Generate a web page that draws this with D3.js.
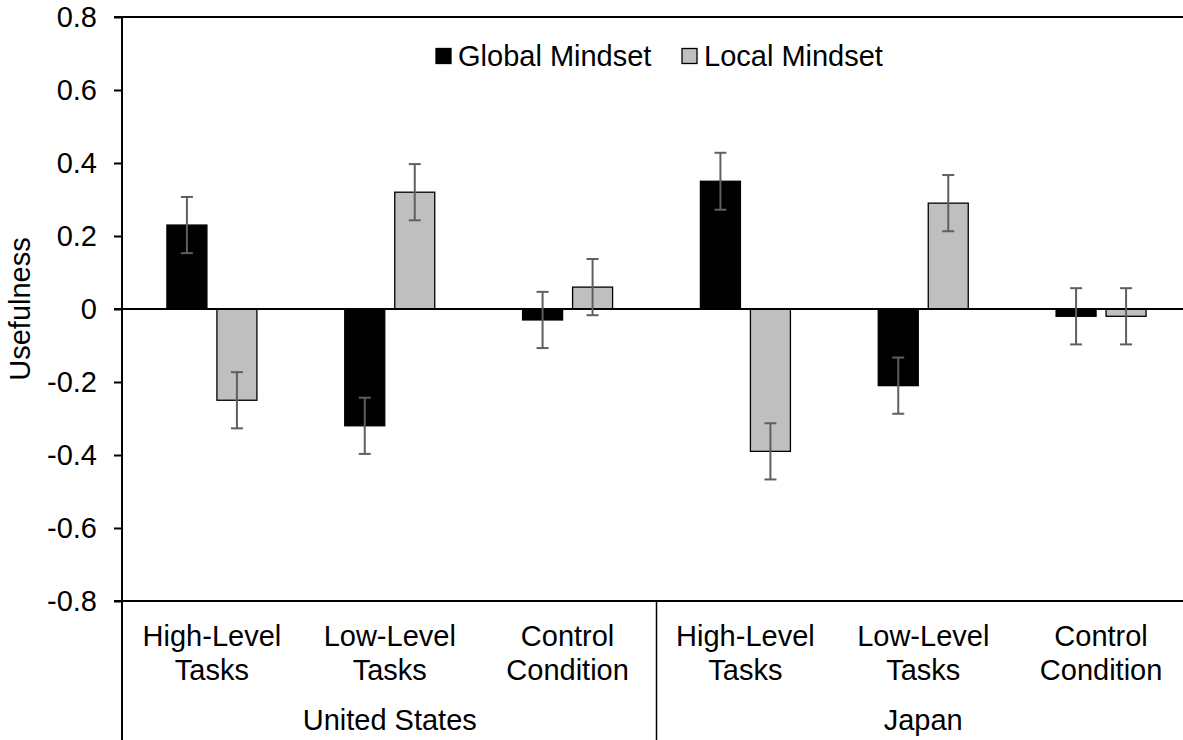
<!DOCTYPE html>
<html>
<head>
<meta charset="utf-8">
<script src="https://cdn.jsdelivr.net/npm/d3@7"></script>
<style>
  html, body { margin: 0; padding: 0; background: #fff; }
  svg { display: block; }
  text { font-family: "Liberation Sans", Arial, sans-serif; fill: #000; }
</style>
</head>
<body>
<svg id="chart" width="1183" height="740"></svg>
<script>
// ---- Data ----
const countries = ["United States", "Japan"];
const conditions = [["High-Level", "Tasks"], ["Low-Level", "Tasks"], ["Control", "Condition"]];
const seriesNames = ["Global Mindset", "Local Mindset"];
const globalValues = [0.23, -0.32, -0.03, 0.35, -0.21, -0.02];
const localValues  = [-0.25, 0.32, 0.06, -0.39, 0.29, -0.02];
const globalErrors = [0.077, 0.077, 0.077, 0.078, 0.077, 0.077];
const localErrors  = [0.077, 0.077, 0.077, 0.077, 0.077, 0.077];
const yTicks = [-0.8, -0.6, -0.4, -0.2, 0, 0.2, 0.4, 0.6, 0.8];
const yTickLabels = ["-0.8", "-0.6", "-0.4", "-0.2", "0", "0.2", "0.4", "0.6", "0.8"];
const yTitle = "Usefulness";

// ---- Layout ----
const W = 1183, H = 740;
const plotLeft = 122, plotRight = 1190, plotTop = 17, plotBottom = 601;
const FS = 29;
const colors = ["#000000", "#bfbfbf"];
const errColor = "#5f5f5f";

const svg = d3.select("#chart");

const groups = [];
countries.forEach((c, ci) => conditions.forEach((cond, k) => groups.push({
  key: ci + "-" + k, country: c, cond: cond, idx: ci * conditions.length + k
})));

const x0 = d3.scaleBand().domain(groups.map(g => g.key)).range([plotLeft + 1, plotRight]).padding(0);
const y = d3.scaleLinear().domain([-0.8, 0.8]).range([plotBottom, plotTop]);

const bw = x0.bandwidth();
const x1 = d3.scaleBand().domain(seriesNames)
  .range([bw / 2 - 45, bw / 2 + 45]).paddingInner(0.2).paddingOuter(0);

// Bars
const barData = [];
groups.forEach(g => {
  barData.push({g, s: seriesNames[0], v: globalValues[g.idx], e: globalErrors[g.idx], c: colors[0]});
  barData.push({g, s: seriesNames[1], v: localValues[g.idx], e: localErrors[g.idx], c: colors[1]});
});

svg.append("g").selectAll("rect").data(barData).join("rect")
  .attr("x", d => x0(d.g.key) + x1(d.s))
  .attr("y", d => y(Math.max(0, d.v)))
  .attr("width", x1.bandwidth())
  .attr("height", d => Math.abs(y(d.v) - y(0)))
  .attr("fill", d => d.c)
  .attr("stroke", "#000")
  .attr("stroke-width", 1.3);

// Zero line
svg.append("line")
  .attr("x1", plotLeft - 8).attr("x2", W)
  .attr("y1", y(0)).attr("y2", y(0))
  .attr("stroke", "#000").attr("stroke-width", 2);

// Error bars
const eb = svg.append("g").attr("stroke", errColor).attr("stroke-width", 2);
barData.forEach(d => {
  const cx = x0(d.g.key) + x1(d.s) + x1.bandwidth() / 2;
  const yt = y(d.v + d.e), yb = y(d.v - d.e);
  eb.append("line").attr("x1", cx).attr("x2", cx).attr("y1", yt).attr("y2", yb);
  eb.append("line").attr("x1", cx - 6).attr("x2", cx + 6).attr("y1", yt).attr("y2", yt);
  eb.append("line").attr("x1", cx - 6).attr("x2", cx + 6).attr("y1", yb).attr("y2", yb);
});

// Y axis
const yAxis = d3.axisLeft(y).tickValues(yTicks)
  .tickFormat((d, i) => yTickLabels[i]).tickSize(8).tickPadding(17);
const ya = svg.append("g").attr("transform", `translate(${plotLeft},0)`).call(yAxis);
ya.select(".domain").remove();
ya.selectAll(".tick line").attr("stroke", "#000").attr("stroke-width", 2);
ya.selectAll(".tick text").attr("font-size", FS).attr("font-family", '"Liberation Sans", Arial, sans-serif')
  .attr("fill", "#000");

// Left axis line (full height to the bottom of the category area)
svg.append("line").attr("x1", plotLeft).attr("x2", plotLeft)
  .attr("y1", plotTop).attr("y2", H)
  .attr("stroke", "#000").attr("stroke-width", 2);

// Top line
svg.append("line").attr("x1", plotLeft - 8).attr("x2", W)
  .attr("y1", plotTop).attr("y2", plotTop)
  .attr("stroke", "#000").attr("stroke-width", 2);

// Bottom category axis line
svg.append("line").attr("x1", plotLeft - 8).attr("x2", W)
  .attr("y1", plotBottom).attr("y2", plotBottom)
  .attr("stroke", "#000").attr("stroke-width", 2);

// Country separators
countries.forEach((c, ci) => {
  if (ci === 0) return;
  const xs = x0(ci + "-0");
  svg.append("line").attr("x1", xs).attr("x2", xs)
    .attr("y1", plotBottom).attr("y2", H)
    .attr("stroke", "#000").attr("stroke-width", 1.5);
});

// Category labels
const catG = svg.append("g").attr("font-size", FS).attr("text-anchor", "middle");
groups.forEach(g => {
  const cx = x0(g.key) + bw / 2;
  const t = catG.append("text").attr("x", cx).attr("y", 646);
  t.append("tspan").attr("x", cx).attr("dy", 0).text(g.cond[0]);
  t.append("tspan").attr("x", cx).attr("dy", 34).text(g.cond[1]);
});
countries.forEach((c, ci) => {
  const xa = x0(ci + "-0");
  const xb = x0(ci + "-" + (conditions.length - 1)) + bw;
  catG.append("text").attr("x", (xa + xb) / 2).attr("y", 730).text(c);
});

// Y title
svg.append("text")
  .attr("transform", `translate(${30},${y(0)}) rotate(-90)`)
  .attr("text-anchor", "middle")
  .attr("font-size", FS)
  .text(yTitle);

// Legend
const legend = svg.append("g").attr("font-size", FS);
const legendX = [436, 682];
seriesNames.forEach((s, i) => {
  legend.append("rect").attr("x", legendX[i]).attr("y", 48.5)
    .attr("width", 15).attr("height", 15)
    .attr("fill", colors[i]).attr("stroke", "#000").attr("stroke-width", 1.3);
  legend.append("text").attr("x", legendX[i] + 22).attr("y", 66).text(s);
});
</script>
</body>
</html>
